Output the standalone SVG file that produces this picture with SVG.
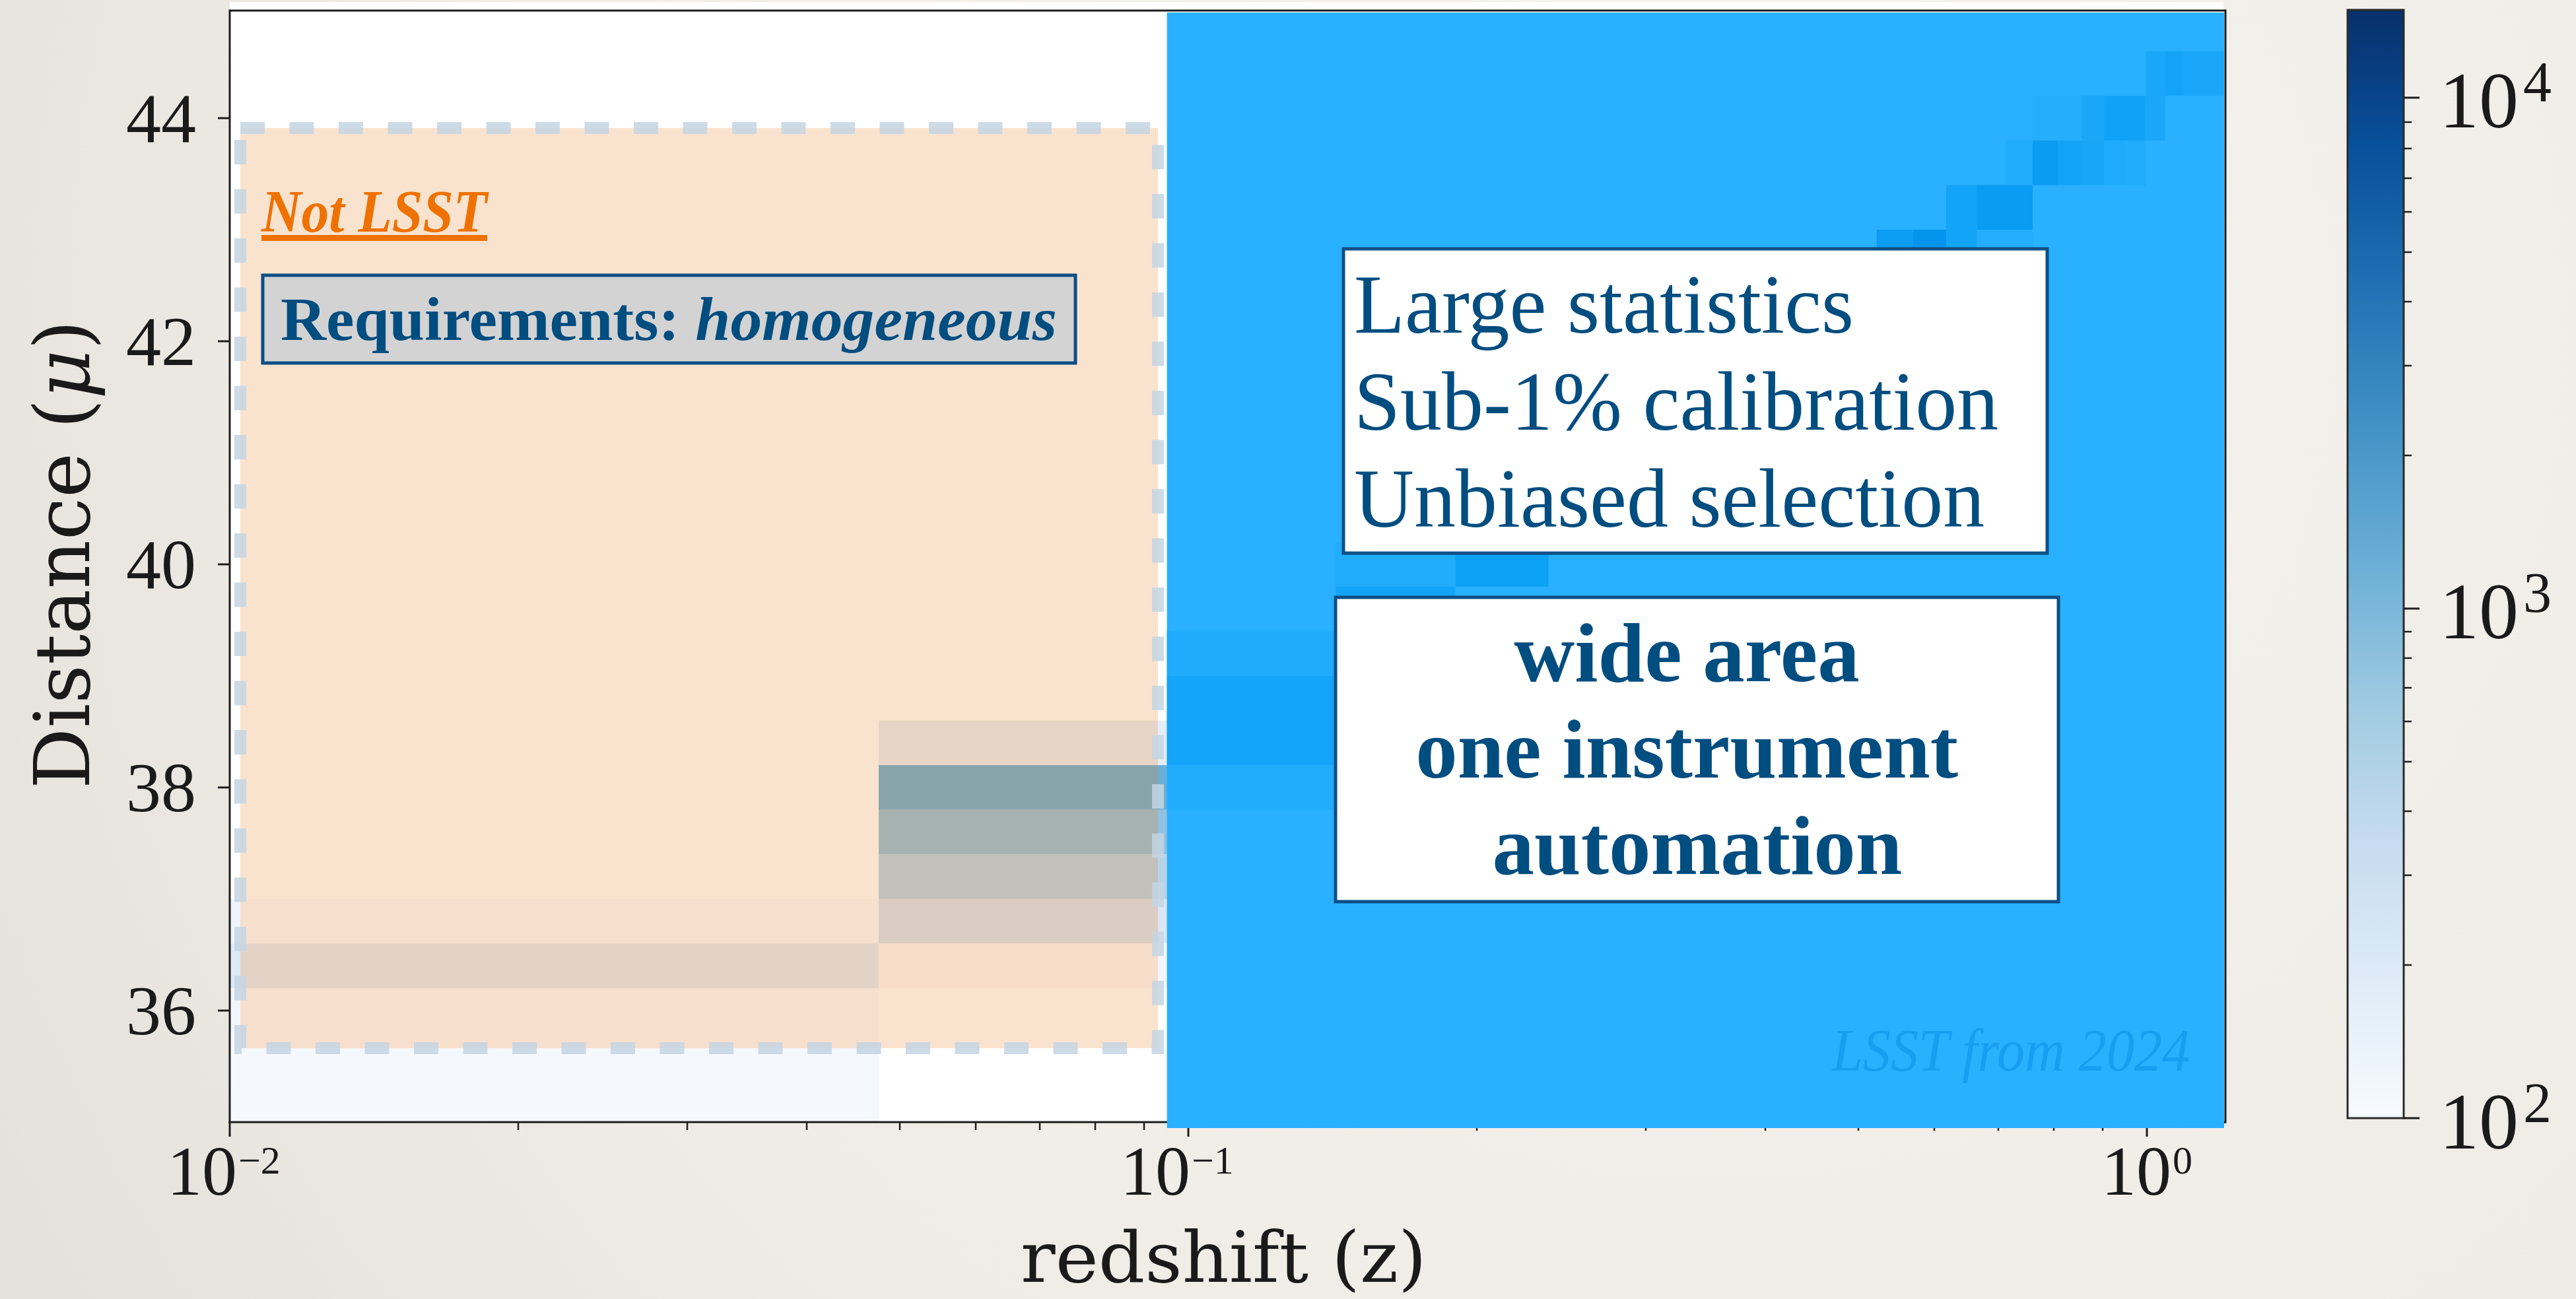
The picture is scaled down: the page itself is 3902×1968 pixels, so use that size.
<svg xmlns="http://www.w3.org/2000/svg" width="3902" height="1968" viewBox="0 0 3902 1968">
  <defs>
    <radialGradient id="paper" cx="2600" cy="500" r="3200" gradientUnits="userSpaceOnUse">
      <stop offset="0" stop-color="#F5F3EE"/>
      <stop offset="0.6" stop-color="#EFECE6"/>
      <stop offset="1" stop-color="#E2DFD9"/>
    </radialGradient>
    <linearGradient id="blues" x1="0" y1="0" x2="0" y2="1">
      <stop offset="0" stop-color="#08306B"/>
      <stop offset="0.125" stop-color="#08519C"/>
      <stop offset="0.25" stop-color="#2171B5"/>
      <stop offset="0.375" stop-color="#4292C6"/>
      <stop offset="0.5" stop-color="#6BAED6"/>
      <stop offset="0.625" stop-color="#9ECAE1"/>
      <stop offset="0.75" stop-color="#C6DBEF"/>
      <stop offset="0.875" stop-color="#DEEBF7"/>
      <stop offset="1" stop-color="#F7FBFF"/>
    </linearGradient>
    <clipPath id="orangeClip">
      <rect x="364" y="194" width="1390" height="1394"/>
    </clipPath>
    <style>
      .tick { stroke:#1d1d1d; stroke-width:3; }
      .tickm { stroke:#1d1d1d; stroke-width:2.5; }
      .num { font-family:"Liberation Serif","Times New Roman",serif; fill:#1a1a1a; }
      .title { font-family:"DejaVu Serif",serif; fill:#1a1a1a; }
      .box { stroke:#0B4F84; stroke-width:5; }
      .blue-text { font-family:"Liberation Serif","Times New Roman",serif; fill:#004D80; }
    </style>
  </defs>

  <rect id="background" x="0" y="0" width="3902" height="1968" fill="url(#paper)"/>

  <g id="plot-area">
    <rect x="348" y="3" width="3020" height="12" fill="#FFFFFF"/>
    <rect x="348" y="16" width="3021" height="1684" fill="#FFFFFF"/>
  </g>

  <g id="heatmap-underlying">
    <rect x="348" y="1362" width="983" height="67.6" fill="#EEF4FB"/>
    <rect x="348" y="1429.6" width="983" height="67.6" fill="#DCE9F6"/>
    <rect x="348" y="1497.2" width="983" height="67.6" fill="#F1F6FC"/>
    <rect x="348" y="1564.8" width="983" height="135.2" fill="#F5F8FD"/>
    <rect x="1331" y="1091.6" width="437" height="67.6" fill="#E4EEF8"/>
    <rect x="1331" y="1159.2" width="437" height="67.6" fill="#6AAED8"/>
    <rect x="1331" y="1226.8" width="437" height="67.6" fill="#8FC1E0"/>
    <rect x="1331" y="1294.4" width="437" height="67.6" fill="#B7D3E8"/>
    <rect x="1331" y="1362" width="437" height="67.6" fill="#D9E6F3"/>
    <rect x="1331" y="1429.6" width="437" height="67.6" fill="#F3F7FD"/>
  </g>

  <g id="not-lsst-region">
    <rect x="364" y="194" width="1390" height="1394" fill="#FAE3CE"/>
    <g clip-path="url(#orangeClip)">
      <rect x="348" y="1362" width="983" height="67.6" fill="#F7DFCD"/>
      <rect x="348" y="1429.6" width="983" height="67.6" fill="#E3D3C6"/>
      <rect x="348" y="1497.2" width="983" height="135.2" fill="#F7DFCD"/>
      <rect x="1331" y="1091.6" width="437" height="67.6" fill="#E6D5C6"/>
      <rect x="1331" y="1159.2" width="437" height="67.6" fill="#88A3AA"/>
      <rect x="1331" y="1226.8" width="437" height="67.6" fill="#A5B2B0"/>
      <rect x="1331" y="1294.4" width="437" height="67.6" fill="#C1C0BB"/>
      <rect x="1331" y="1362" width="437" height="67.6" fill="#DACCC2"/>
      <rect x="1331" y="1429.6" width="437" height="67.6" fill="#F7DECB"/>
    </g>
    <rect x="364" y="194" width="1390" height="1394" fill="none" stroke="#C4D5E3" stroke-opacity="0.85" stroke-width="18" stroke-dasharray="37 37.5"/>
  </g>

  <g id="axes">
    <line x1="348" y1="16" x2="3372" y2="16" class="tick"/>
    <line x1="348" y1="14.5" x2="348" y2="1701.5" class="tick"/>
    <line x1="3371" y1="14.5" x2="3371" y2="1701.5" class="tick"/>
    <line x1="346.5" y1="1700" x2="3372" y2="1700" class="tick"/>
    <line x1="330" y1="179" x2="348" y2="179" class="tick"/>
    <line x1="330" y1="517" x2="348" y2="517" class="tick"/>
    <line x1="330" y1="855" x2="348" y2="855" class="tick"/>
    <line x1="330" y1="1193" x2="348" y2="1193" class="tick"/>
    <line x1="330" y1="1531" x2="348" y2="1531" class="tick"/>
    <line x1="348" y1="1700" x2="348" y2="1722" class="tick"/>
    <line x1="1800" y1="1700" x2="1800" y2="1722" class="tick"/>
    <line x1="3252" y1="1700" x2="3252" y2="1722" class="tick"/>
    <g class="tickm">
      <line x1="785" y1="1700" x2="785" y2="1712"/>
      <line x1="1041" y1="1700" x2="1041" y2="1712"/>
      <line x1="1222" y1="1700" x2="1222" y2="1712"/>
      <line x1="1363" y1="1700" x2="1363" y2="1712"/>
      <line x1="1478" y1="1700" x2="1478" y2="1712"/>
      <line x1="1575" y1="1700" x2="1575" y2="1712"/>
      <line x1="1659" y1="1700" x2="1659" y2="1712"/>
      <line x1="1733" y1="1700" x2="1733" y2="1712"/>
      <line x1="2237" y1="1700" x2="2237" y2="1713"/>
      <line x1="2493" y1="1700" x2="2493" y2="1713"/>
      <line x1="2674" y1="1700" x2="2674" y2="1713"/>
      <line x1="2815" y1="1700" x2="2815" y2="1713"/>
      <line x1="2930" y1="1700" x2="2930" y2="1713"/>
      <line x1="3027" y1="1700" x2="3027" y2="1713"/>
      <line x1="3111" y1="1700" x2="3111" y2="1713"/>
      <line x1="3185" y1="1700" x2="3185" y2="1713"/>
    </g>
  </g>

  <g id="lsst-region">
    <rect x="1767.6" y="19" width="1601.4" height="1690" fill="#29B0FE"/>
    <rect x="1767.6" y="956.4" width="255.7" height="67.6" fill="#20ABFC"/>
    <rect x="1767.6" y="1024" width="255.7" height="135.2" fill="#15A5F8"/>
    <rect x="1767.6" y="1159.2" width="255.7" height="67.6" fill="#22ACFC"/>
    <rect x="2023.3" y="821.2" width="181.4" height="67.6" fill="#21ACFC"/>
    <rect x="2023.3" y="888.8" width="181.4" height="67.6" fill="#13A4F8"/>
    <rect x="2204.7" y="821.2" width="140.8" height="67.6" fill="#0DA1F5"/>
    <rect x="2842.7" y="348" width="54.8" height="67.6" fill="#0C9CF2"/>
    <rect x="2897.5" y="348" width="50.5" height="67.6" fill="#0494EE"/>
    <rect x="2948.0" y="280.4" width="46.7" height="135.2" fill="#13A4F7"/>
    <rect x="2994.7" y="348" width="84.2" height="67.6" fill="#24ADFC"/>
    <rect x="2994.7" y="280.4" width="84.2" height="67.6" fill="#0A9BF2"/>
    <rect x="3038.2" y="212.8" width="40.7" height="67.6" fill="#21ACFC"/>
    <rect x="3078.9" y="212.8" width="38.3" height="67.6" fill="#0A9BF2"/>
    <rect x="3117.2" y="212.8" width="36" height="67.6" fill="#13A3F6"/>
    <rect x="3153.2" y="212.8" width="34.1" height="67.6" fill="#18A6F8"/>
    <rect x="3187.3" y="212.8" width="32.4" height="67.6" fill="#1FABFB"/>
    <rect x="3219.7" y="212.8" width="30.7" height="67.6" fill="#22ACFC"/>
    <rect x="3078.9" y="145.2" width="74.3" height="67.6" fill="#25AEFC"/>
    <rect x="3153.2" y="145.2" width="34.1" height="67.6" fill="#1BA7F8"/>
    <rect x="3187.3" y="145.2" width="63.1" height="67.6" fill="#10A2F6"/>
    <rect x="3250.4" y="145.2" width="29.4" height="67.6" fill="#1AA7F9"/>
    <rect x="3250.4" y="77.6" width="29.4" height="67.6" fill="#1AA7F9"/>
    <rect x="3279.8" y="77.6" width="28" height="67.6" fill="#14A3F6"/>
    <rect x="3307.8" y="77.6" width="61.2" height="67.6" fill="#1AA7F9"/>
    <text x="2775" y="1622" font-family="'Liberation Serif','Times New Roman',serif" font-style="italic" font-size="92" fill="#189EF0" textLength="542" lengthAdjust="spacingAndGlyphs">LSST from 2024</text>
  </g>

  <g id="not-lsst-label">
    <text x="396" y="351" font-family="'Liberation Serif','Times New Roman',serif" font-weight="bold" font-style="italic" font-size="90" fill="#EF7100" text-decoration="underline" textLength="342" lengthAdjust="spacingAndGlyphs">Not LSST</text>
  </g>

  <g id="requirements-box">
    <rect x="398" y="417" width="1231" height="133" fill="#D3D3D3" class="box" stroke-width="4.5"/>
    <text x="425" y="515" class="blue-text" font-weight="bold" font-size="94" textLength="1176" lengthAdjust="spacingAndGlyphs">Requirements: <tspan font-style="italic">homogeneous</tspan></text>
  </g>

  <g id="lsst-goals-box">
    <rect x="2035" y="377" width="1066" height="461" fill="#FFFFFF" class="box"/>
    <text class="blue-text" font-size="126">
      <tspan x="2051" y="504">Large statistics</tspan>
      <tspan x="2051" y="651">Sub-1% calibration</tspan>
      <tspan x="2051" y="798">Unbiased selection</tspan>
    </text>
  </g>

  <g id="lsst-means-box">
    <rect x="2023" y="905" width="1095" height="461" fill="#FFFFFF" class="box"/>
    <text class="blue-text" font-weight="bold" font-size="127" text-anchor="middle">
      <tspan x="2571" y="1032">wide area</tspan>
      <tspan x="2571" y="1178">one instrument</tspan>
      <tspan x="2571" y="1324">automation</tspan>
    </text>
  </g>

  <g id="axis-labels">
    <g class="num" font-size="106" text-anchor="end">
      <text x="297" y="215">44</text>
      <text x="297" y="553">42</text>
      <text x="297" y="891">40</text>
      <text x="297" y="1229">38</text>
      <text x="297" y="1567">36</text>
    </g>
    <g class="num">
      <text x="253" y="1810" font-size="106">10</text>
      <text x="361" y="1778" font-size="60">−2</text>
      <text x="1697" y="1810" font-size="106">10</text>
      <text x="1805" y="1778" font-size="60">−1</text>
      <text x="3183" y="1810" font-size="106">10</text>
      <text x="3291" y="1778" font-size="60">0</text>
    </g>
    <text class="title" x="1853.5" y="1942" font-size="106" text-anchor="middle" textLength="615" lengthAdjust="spacingAndGlyphs">redshift (z)</text>
    <text class="title" transform="translate(135,840) rotate(-90)" x="0" y="0" font-size="116" text-anchor="middle" textLength="710" lengthAdjust="spacingAndGlyphs">Distance (<tspan font-style="italic">μ</tspan>)</text>
  </g>

  <g id="colorbar">
    <rect x="3556" y="15" width="85" height="1679" fill="url(#blues)" stroke="#2a2a2a" stroke-width="3"/>
    <g class="tick">
      <line x1="3641" y1="148" x2="3665" y2="148"/>
      <line x1="3641" y1="922" x2="3665" y2="922"/>
      <line x1="3641" y1="1694" x2="3665" y2="1694"/>
    </g>
    <g class="tickm">
      <line x1="3641" y1="185" x2="3653" y2="185"/>
      <line x1="3641" y1="225" x2="3653" y2="225"/>
      <line x1="3641" y1="270" x2="3653" y2="270"/>
      <line x1="3641" y1="321" x2="3653" y2="321"/>
      <line x1="3641" y1="382" x2="3653" y2="382"/>
      <line x1="3641" y1="457" x2="3653" y2="457"/>
      <line x1="3641" y1="554" x2="3653" y2="554"/>
      <line x1="3641" y1="690" x2="3653" y2="690"/>
      <line x1="3641" y1="957" x2="3653" y2="957"/>
      <line x1="3641" y1="997" x2="3653" y2="997"/>
      <line x1="3641" y1="1042" x2="3653" y2="1042"/>
      <line x1="3641" y1="1093" x2="3653" y2="1093"/>
      <line x1="3641" y1="1154" x2="3653" y2="1154"/>
      <line x1="3641" y1="1229" x2="3653" y2="1229"/>
      <line x1="3641" y1="1326" x2="3653" y2="1326"/>
      <line x1="3641" y1="1462" x2="3653" y2="1462"/>
    </g>
    <g class="num">
      <text x="3695" y="193" font-size="120">10</text>
      <text x="3822" y="153" font-size="86">4</text>
      <text x="3695" y="967" font-size="120">10</text>
      <text x="3822" y="927" font-size="86">3</text>
      <text x="3695" y="1740" font-size="120">10</text>
      <text x="3822" y="1700" font-size="86">2</text>
    </g>
  </g>
</svg>
